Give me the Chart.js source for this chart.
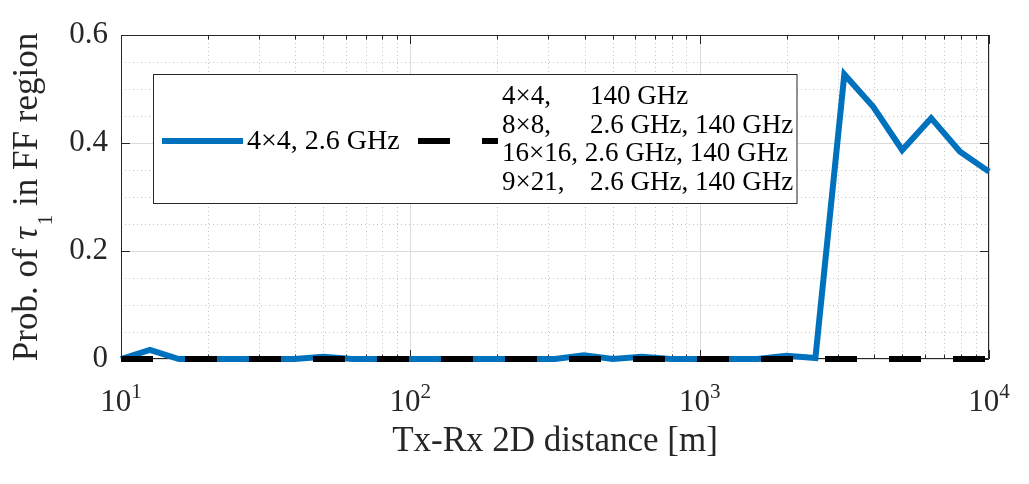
<!DOCTYPE html>
<html>
<head>
<meta charset="utf-8">
<script src="https://cdn.jsdelivr.net/npm/chart.js@4.4.1/dist/chart.umd.min.js"></script>
<style>
  html, body { margin: 0; padding: 0; background: #fff; }
  #wrap { width: 1029px; height: 484px; }
</style>
</head>
<body>
<div id="wrap"><canvas id="lineChart"></canvas></div>
<script>
// distances [m], ten points per decade
var distances = [10, 12.59, 15.85, 19.95, 25.12, 31.62, 39.81, 50.12, 63.10, 79.43,
                 100, 125.9, 158.5, 199.5, 251.2, 316.2, 398.1, 501.2, 631.0, 794.3,
                 1000, 1259, 1585, 1995, 2512, 3162, 3981, 5012, 6310, 7943, 10000];
var prob4x4Low = [0, 0.017, 0, 0, 0, 0, 0, 0.004, 0, 0,
                  0, 0, 0, 0, 0, 0, 0.007, 0, 0.004, 0,
                  0, 0, 0, 0.006, 0.002, 0.527, 0.467, 0.387, 0.446, 0.384, 0.347];
var probOthers = [0, 0, 0, 0, 0, 0, 0, 0, 0, 0,
                  0, 0, 0, 0, 0, 0, 0, 0, 0, 0,
                  0, 0, 0, 0, 0, 0, 0, 0, 0, 0, 0];
var yTicks = [0, 0.2, 0.4, 0.6];
var yMinor = [0.05, 0.1, 0.15, 0.25, 0.3, 0.35, 0.45, 0.5, 0.55];
var xDecades = [10, 100, 1000, 10000];
var xExponents = ['1', '2', '3', '4'];
var blueLabel = '4×4, 2.6 GHz';
var blackLabel = [['4×4,', '140 GHz'],
                  ['8×8,', '2.6 GHz, 140 GHz'],
                  ['16×16, 2.6 GHz, 140 GHz'],
                  ['9×21,', '2.6 GHz, 140 GHz']];

var serif = '"Liberation Serif", "Times New Roman", serif';
var axisColor = '#262626';
var blue = '#0072BD';

function pts(ys) {
  return distances.map(function (d, i) { return {x: d, y: ys[i]}; });
}

var matlabLook = {
  id: 'matlabLook',
  beforeDatasetsDraw: function (chart) {
    var c = chart.ctx, a = chart.chartArea;
    var xs = chart.scales.x, ys = chart.scales.y;
    c.save();
    c.lineWidth = 1;

    // minor grid (dotted)
    c.strokeStyle = '#c4c4c4';
    c.setLineDash([1, 3]);
    c.beginPath();
    xDecades.slice(0, -1).forEach(function (d) {
      for (var m = 2; m <= 9; m++) {
        var px = Math.round(xs.getPixelForValue(d * m)) + 0.5;
        c.moveTo(px, a.top); c.lineTo(px, a.bottom);
      }
    });
    yMinor.forEach(function (v) {
      var py = Math.round(ys.getPixelForValue(v)) + 0.5;
      c.moveTo(a.left, py); c.lineTo(a.right, py);
    });
    c.stroke();

    // major grid
    c.setLineDash([]);
    c.strokeStyle = '#dcdcdc';
    c.beginPath();
    xDecades.forEach(function (d) {
      var px = Math.round(xs.getPixelForValue(d)) + 0.5;
      c.moveTo(px, a.top); c.lineTo(px, a.bottom);
    });
    yTicks.forEach(function (v) {
      var py = Math.round(ys.getPixelForValue(v)) + 0.5;
      c.moveTo(a.left, py); c.lineTo(a.right, py);
    });
    c.stroke();

    // box and inward ticks
    c.strokeStyle = axisColor;
    c.beginPath();
    c.rect(a.left + 0.5, a.top + 0.5, a.right - a.left - 1, a.bottom - a.top - 1);
    xDecades.forEach(function (d, k) {
      var px = Math.round(xs.getPixelForValue(d)) + 0.5;
      c.moveTo(px, a.bottom); c.lineTo(px, a.bottom - 9);
      c.moveTo(px, a.top); c.lineTo(px, a.top + 9);
      if (k < xDecades.length - 1) {
        for (var m = 2; m <= 9; m++) {
          var qx = Math.round(xs.getPixelForValue(d * m)) + 0.5;
          c.moveTo(qx, a.bottom); c.lineTo(qx, a.bottom - 4.5);
          c.moveTo(qx, a.top); c.lineTo(qx, a.top + 4.5);
        }
      }
    });
    yTicks.forEach(function (v) {
      var py = Math.round(ys.getPixelForValue(v)) + 0.5;
      c.moveTo(a.left, py); c.lineTo(a.left + 9, py);
      c.moveTo(a.right, py); c.lineTo(a.right - 9, py);
    });
    c.stroke();
    c.restore();
  },
  afterDatasetsDraw: function (chart) {
    var c = chart.ctx;
    c.save();
    // legend box
    c.fillStyle = '#fff';
    c.fillRect(153.5, 74.5, 643.5, 129);
    c.strokeStyle = axisColor;
    c.lineWidth = 1;
    c.strokeRect(153.5, 74.5, 643.5, 129);

    var ds = chart.data.datasets;
    c.lineCap = 'butt';
    c.lineWidth = 6;
    c.strokeStyle = ds[0].borderColor;
    c.beginPath(); c.moveTo(162, 141); c.lineTo(243, 141); c.stroke();
    c.strokeStyle = ds[1].borderColor;
    c.setLineDash(ds[1].borderDash);
    c.beginPath(); c.moveTo(418, 141); c.lineTo(498, 141); c.stroke();
    c.setLineDash([]);

    c.fillStyle = '#000';
    c.textBaseline = 'middle';
    c.textAlign = 'left';
    c.font = '28px ' + serif;
    c.fillText(ds[0].label, 247, 142);
    c.font = '27px ' + serif;
    blackLabel.forEach(function (line, i) {
      var y = 97 + i * 28.5;
      c.fillText(line[0], 502, y);
      if (line.length > 1) c.fillText(line[1], 590, y);
    });
    c.restore();
  },
  afterDraw: function (chart) {
    var c = chart.ctx, xs = chart.scales.x;
    c.save();
    c.fillStyle = axisColor;
    c.textBaseline = 'alphabetic';
    c.textAlign = 'left';
    // x tick labels with superscripts
    xDecades.forEach(function (d, k) {
      var px = xs.getPixelForValue(d);
      c.font = '31px ' + serif;
      var w1 = c.measureText('10').width;
      c.font = '21px ' + serif;
      var w2 = c.measureText(xExponents[k]).width;
      var x0 = px - (w1 + w2) / 2;
      c.font = '31px ' + serif;
      c.fillText('10', x0, 411);
      c.font = '21px ' + serif;
      c.fillText(xExponents[k], x0 + w1, 398);
    });

    // y title with italic tau and subscript
    var parts = [
      {t: 'Prob. of ', f: '35px ' + serif, dy: 0},
      {t: 'τ', f: 'italic 35px ' + serif, dy: 0},
      {t: '1', f: '21px ' + serif, dy: 15},
      {t: ' in FF region', f: '35px ' + serif, dy: 0}
    ];
    var total = 0;
    parts.forEach(function (p) { c.font = p.f; p.w = c.measureText(p.t).width; total += p.w; });
    c.translate(37, 198);
    c.rotate(-Math.PI / 2);
    var x = -total / 2;
    parts.forEach(function (p) {
      c.font = p.f;
      c.fillText(p.t, x, p.dy);
      x += p.w + (p.t === 'τ' ? 2 : 0);
    });
    c.restore();
  }
};

var ctx = document.getElementById('lineChart').getContext('2d');
var myChart = new Chart(ctx, {
  type: 'line',
  data: {
    datasets: [{
      label: blueLabel,
      data: pts(prob4x4Low),
      borderColor: blue,
      borderWidth: 6,
      borderJoinStyle: 'miter',
      pointRadius: 0,
      tension: 0,
      clip: false,
      order: 2
    }, {
      label: blackLabel.map(function (l) { return l.join(' '); }).join('\n'),
      data: pts(probOthers),
      borderColor: '#000',
      borderWidth: 6,
      borderDash: [32, 32],
      pointRadius: 0,
      tension: 0,
      clip: false,
      order: 1
    }]
  },
  options: {
    responsive: true,
    maintainAspectRatio: false,
    animation: false,
    devicePixelRatio: 1,
    layout: {padding: {top: 35, right: 40, left: 0, bottom: 0}},
    plugins: {legend: {display: false}, tooltip: {enabled: false}},
    scales: {
      x: {
        type: 'logarithmic',
        min: 10,
        max: 10000,
        grid: {display: false, drawTicks: false},
        border: {display: false},
        ticks: {display: false},
        title: {
          display: true,
          text: 'Tx-Rx 2D distance [m]',
          color: axisColor,
          font: {family: serif, size: 35, lineHeight: 1.2},
          padding: {top: 0, bottom: 21}
        },
        afterFit: function (s) { s.height = 125; }
      },
      y: {
        min: 0,
        max: 0.6,
        grid: {display: false, drawTicks: false},
        border: {display: false},
        afterBuildTicks: function (s) { s.ticks = yTicks.map(function (v) { return {value: v}; }); },
        ticks: {
          color: axisColor,
          padding: 13,
          font: {family: serif, size: 31},
          callback: function (v) { return String(Math.round(v * 10) / 10); }
        },
        afterFit: function (s) { s.width = 121; }
      }
    }
  },
  plugins: [matlabLook]
});
</script>
</body>
</html>
